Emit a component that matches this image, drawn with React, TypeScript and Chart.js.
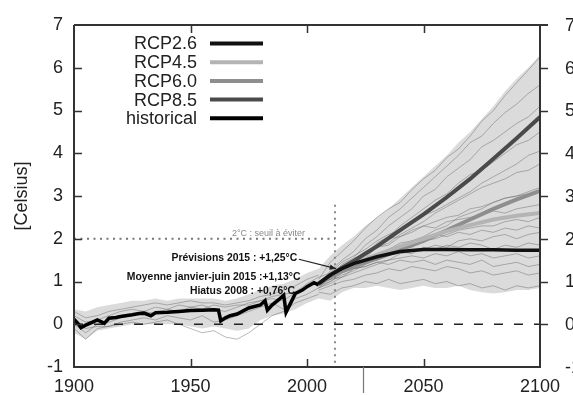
import React, { useEffect, useRef } from "react";
import { Chart, registerables } from "chart.js";
Chart.register(...registerables);

const FONT = '"Liberation Sans", Arial, Helvetica, sans-serif';

// ---- axes ----
const xMin = 1900;
const xMax = 2100;
const yMin = -1;
const yMax = 7;
const xTickYears = [1950, 2000, 2050];
const yTickVals = [0, 1, 2, 3, 4, 5, 6];
const rightLabels = ["-1", "0", "1", "2", "3", "4", "5", "6", "7"];

// ---- historical ----
const histYears = [1900,1902,1903,1905,1908,1910,1912,1913,1915,1918,1920,1925,1928,1930,1933,1935,1940,1945,1950,1955,1960,1962,1963,1965,1967,1970,1975,1980,1982,1983,1985,1988,1990,1991,1993,1995,1998,2000,2003,2005];
const histVals = [0.12,0.0,-0.08,-0.02,0.05,0.1,0.05,0.02,0.14,0.16,0.18,0.22,0.25,0.26,0.2,0.27,0.28,0.3,0.32,0.33,0.34,0.33,0.08,0.15,0.2,0.24,0.38,0.45,0.55,0.33,0.45,0.58,0.68,0.28,0.5,0.72,0.8,0.88,0.97,0.92];

// ---- scenario means ----
const scenYears = [2005,2010,2015,2020,2030,2040,2050,2060,2070,2080,2090,2100];
const rcp26 = [0.95,1.15,1.3,1.42,1.58,1.7,1.75,1.75,1.74,1.74,1.73,1.73];
const rcp45 = [0.95,1.15,1.3,1.42,1.62,1.82,2.0,2.18,2.32,2.45,2.54,2.6];
const rcp60 = [0.95,1.12,1.25,1.36,1.55,1.75,1.95,2.2,2.45,2.7,2.92,3.12];
const rcp85 = [0.95,1.15,1.32,1.48,1.82,2.2,2.57,2.97,3.4,3.87,4.35,4.85];
const legendLabels = ["RCP2.6", "RCP4.5", "RCP6.0", "RCP8.5", "historical"];

// ---- ensemble envelope ----
const envYears = [1900,1905,1910,1915,1920,1925,1930,1935,1940,1945,1950,1955,1960,1965,1970,1975,1980,1985,1990,1995,2000,2005,2010,2015,2020,2025,2030,2035,2040,2045,2050,2055,2060,2065,2070,2075,2080,2085,2090,2095,2100];
const envUpper = [0.35,0.3,0.4,0.45,0.5,0.55,0.55,0.6,0.55,0.6,0.6,0.6,0.6,0.55,0.6,0.7,0.8,0.9,0.95,1.05,1.2,1.3,1.6,1.85,2.05,2.3,2.5,2.7,2.95,3.2,3.45,3.7,3.95,4.25,4.5,4.8,5.1,5.45,5.75,6.0,6.3];
const envLower = [-0.2,-0.35,-0.15,-0.1,-0.05,0.0,0.0,0.0,0.0,0.0,-0.05,-0.1,-0.05,-0.1,-0.15,-0.1,0.1,0.2,0.25,0.35,0.5,0.6,0.55,0.75,0.85,0.85,0.9,0.85,0.8,0.85,0.9,0.85,0.85,0.9,0.8,0.75,0.72,0.75,0.8,0.8,0.85];

// ---- historical ensemble members ----
const histEnsYears = [1900,1905,1910,1915,1920,1925,1930,1935,1940,1945,1950,1955,1960,1965,1970,1975,1980,1985,1990,1995,2000,2005];
const h1 = [0.3,0.15,0.2,0.3,0.35,0.4,0.45,0.5,0.45,0.5,0.55,0.5,0.5,0.45,0.5,0.55,0.65,0.7,0.8,0.9,1.05,1.15];
const h2 = [0.0,-0.2,0.0,0.05,0.15,0.2,0.3,0.25,0.35,0.3,0.4,0.45,0.35,0.3,0.4,0.5,0.55,0.6,0.55,0.75,0.85,1.0];
const h3 = [-0.1,-0.35,-0.1,-0.05,0.05,0.1,0.15,0.1,0.2,0.15,0.1,0.2,0.05,0.1,0.2,0.3,0.4,0.5,0.35,0.6,0.7,0.85];
const h4 = [0.05,-0.1,-0.05,-0.05,0.0,0.05,0.0,0.05,0.1,0.0,-0.1,-0.2,-0.15,-0.3,-0.35,-0.2,0.0,0.2,0.3,0.5,0.6,0.7];
const h5 = [0.2,0.05,0.1,0.2,0.3,0.35,0.3,0.4,0.35,0.45,0.4,0.35,0.45,0.4,0.45,0.45,0.55,0.65,0.7,0.75,0.95,1.1];

// ---- future ensemble members ----
const futYears = [2005,2010,2015,2020,2025,2030,2035,2040,2045,2050,2055,2060,2065,2070,2075,2080,2085,2090,2095,2100];
const m1 = [1.05,1.45,1.7,1.95,2.25,2.5,2.7,2.85,3.15,3.4,3.6,3.9,4.1,4.4,4.75,5.0,5.35,5.65,5.95,6.25];
const m2 = [0.9,1.25,1.5,1.7,2.0,2.2,2.5,2.7,2.95,3.2,3.45,3.7,3.95,4.25,4.4,4.7,4.95,5.15,5.4,5.6];
const m3 = [1.0,1.1,1.4,1.55,1.85,2.05,2.3,2.5,2.7,3.0,3.15,3.45,3.65,3.85,4.15,4.3,4.5,4.7,4.85,5.1];
const m4 = [0.85,1.1,1.25,1.5,1.65,1.9,2.05,2.3,2.5,2.7,2.9,3.05,3.3,3.5,3.6,3.8,4.0,4.2,4.3,4.5];
const m5 = [0.95,1.05,1.3,1.4,1.55,1.8,1.9,2.1,2.25,2.4,2.6,2.75,2.9,3.05,3.2,3.3,3.4,3.55,3.6,3.75];
const m6 = [0.9,1.0,1.2,1.3,1.4,1.55,1.7,1.8,1.95,2.05,2.2,2.3,2.5,2.6,2.7,2.85,2.95,3.0,3.1,3.2];
const m7 = [1.0,1.15,1.3,1.5,1.6,1.8,1.85,2.05,2.15,2.3,2.4,2.5,2.55,2.7,2.75,2.85,2.95,3.0,3.05,3.1];
const m8 = [0.85,1.0,1.15,1.25,1.4,1.5,1.6,1.75,1.8,1.95,2.0,2.1,2.2,2.25,2.3,2.3,2.4,2.45,2.4,2.5];
const m9 = [0.9,1.05,1.1,1.3,1.35,1.45,1.5,1.65,1.7,1.75,1.85,1.8,1.95,2.0,1.95,2.05,2.1,2.0,2.1,2.15];
const m10 = [0.95,1.1,1.25,1.4,1.5,1.65,1.75,1.9,1.95,2.0,2.1,2.05,2.15,2.1,2.2,2.15,2.25,2.2,2.3,2.25];
const m11 = [0.85,0.95,1.1,1.2,1.3,1.4,1.5,1.55,1.6,1.55,1.65,1.6,1.7,1.6,1.65,1.55,1.6,1.65,1.55,1.6];
const m12 = [0.8,0.9,1.0,1.05,1.15,1.2,1.3,1.25,1.35,1.3,1.25,1.35,1.3,1.2,1.25,1.15,1.2,1.25,1.15,1.2];
const m13 = [0.75,0.7,0.85,0.9,1.0,0.95,1.05,0.95,1.0,1.05,0.95,1.0,0.9,0.95,0.85,0.9,0.8,0.9,0.85,0.9];
const m14 = [1.1,1.2,1.45,1.6,1.75,1.95,2.1,2.2,2.4,2.55,2.65,2.8,2.95,3.1,3.3,3.45,3.6,3.75,3.95,4.05];
const m15 = [0.95,1.2,1.3,1.5,1.7,1.85,2.0,2.05,2.2,2.3,2.25,2.4,2.45,2.5,2.55,2.65,2.6,2.7,2.75,2.8];
const m16 = [0.9,1.1,1.25,1.35,1.45,1.5,1.6,1.7,1.65,1.8,1.75,1.85,1.8,1.9,1.85,1.75,1.85,1.8,1.9,1.85];
const m17 = [1.0,1.05,1.2,1.3,1.35,1.45,1.4,1.5,1.45,1.5,1.4,1.5,1.45,1.4,1.5,1.35,1.4,1.45,1.35,1.4];

// ---- reference lines ----
const thresholdValue = 2;
const thresholdEndYear = 2012;
const markerYear = 2012;
const markerSpan = [-0.9, 2.8];
const artifactYear = 2024;

// ---- annotation texts ----
const thresholdLabel = "2°C : seuil à éviter";
const noteTexts = [
  "Prévisions 2015 : +1,25°C",
  "Moyenne janvier-juin 2015 :+1,13°C",
  "Hiatus 2008 : +0,76°C",
];

const pts = (xs: number[], ys: number[]) => xs.map((x, i) => ({ x, y: ys[i] }));

const line = (data: any[], color: string, width: number, order: number, extra: any = {}) => ({
  data,
  borderColor: color,
  borderWidth: width,
  pointRadius: 0,
  fill: false,
  tension: 0,
  order,
  ...extra,
});

const framePlugin = {
  id: "framePlugin",
  afterDatasetsDraw(chart: any) {
    const ctx = chart.ctx;
    const xs = chart.scales.x;
    const ys = chart.scales.y;
    const L = xs.left, R = xs.right, T = ys.top, B = ys.bottom;
    ctx.save();
    ctx.setLineDash([]);
    ctx.globalAlpha = 1;
    ctx.strokeStyle = "#333333";
    ctx.lineWidth = 2;
    ctx.beginPath();
    ctx.moveTo(L, T);
    ctx.lineTo(R + 8, T);
    ctx.moveTo(L, T);
    ctx.lineTo(L, B);
    ctx.lineTo(R, B);
    ctx.lineTo(R, T);
    ctx.stroke();

    ctx.lineWidth = 1.5;
    ctx.beginPath();
    for (const v of xTickYears) {
      const px = Math.round(xs.getPixelForValue(v)) + 0.5;
      ctx.moveTo(px, T);
      ctx.lineTo(px, T + 8);
      ctx.moveTo(px, B);
      ctx.lineTo(px, B - 8);
    }
    for (const v of yTickVals) {
      const py = Math.round(ys.getPixelForValue(v)) + 0.5;
      ctx.moveTo(L, py);
      ctx.lineTo(L + 8, py);
      ctx.moveTo(R, py);
      ctx.lineTo(R + 8, py);
    }
    ctx.stroke();

    ctx.strokeStyle = "#777777";
    ctx.lineWidth = 1.2;
    const sx = Math.round(xs.getPixelForValue(artifactYear)) + 0.5;
    ctx.beginPath();
    ctx.moveTo(sx, B);
    ctx.lineTo(sx, B + 26);
    ctx.stroke();

    ctx.fillStyle = "#222";
    ctx.font = `18px ${FONT}`;
    ctx.textAlign = "left";
    ctx.textBaseline = "middle";
    rightLabels.forEach((lab) => {
      ctx.fillText(lab, R + 25, ys.getPixelForValue(Number(lab)) + 1);
    });
    ctx.restore();
  },
};

const overlay = {
  id: "overlay",
  afterDraw(chart: any) {
    const ctx = chart.ctx;
    const xs = chart.scales.x;
    const ys = chart.scales.y;
    const L = xs.left, T = ys.top;
    ctx.save();
    ctx.setLineDash([]);

    ctx.fillStyle = "#888";
    ctx.font = `9px ${FONT}`;
    ctx.textAlign = "center";
    ctx.textBaseline = "middle";
    ctx.fillText(thresholdLabel, xs.getPixelForValue(1983.5), ys.getPixelForValue(2.13));

    ctx.fillStyle = "#111";
    ctx.font = `bold 10.4px ${FONT}`;
    ctx.textAlign = "right";
    ctx.fillText(noteTexts[0], xs.getPixelForValue(1995.8), ys.getPixelForValue(1.55));
    ctx.fillText(noteTexts[1], xs.getPixelForValue(1997.2), ys.getPixelForValue(1.1));
    ctx.fillText(noteTexts[2], xs.getPixelForValue(1994.8), ys.getPixelForValue(0.78));

    const ax0 = xs.getPixelForValue(1996.5), ay0 = ys.getPixelForValue(1.52);
    const ax1 = xs.getPixelForValue(2012.5), ay1 = ys.getPixelForValue(1.3);
    ctx.strokeStyle = "#222";
    ctx.lineWidth = 1.2;
    ctx.beginPath();
    ctx.moveTo(ax0, ay0);
    ctx.lineTo(ax1, ay1);
    ctx.stroke();
    const ang = Math.atan2(ay1 - ay0, ax1 - ax0);
    ctx.fillStyle = "#222";
    ctx.beginPath();
    ctx.moveTo(ax1, ay1);
    ctx.lineTo(ax1 - 7 * Math.cos(ang - 0.4), ay1 - 7 * Math.sin(ang - 0.4));
    ctx.lineTo(ax1 - 7 * Math.cos(ang + 0.4), ay1 - 7 * Math.sin(ang + 0.4));
    ctx.closePath();
    ctx.fill();

    const legendColors = ["#111", "#b4b4b4", "#8e8e8e", "#4a4a4a", "#000"];
    ctx.font = `18px ${FONT}`;
    ctx.textAlign = "right";
    ctx.textBaseline = "middle";
    legendLabels.forEach((lab, i) => {
      const yy = T + 18.5 + i * 18.7;
      ctx.fillStyle = "#222";
      ctx.fillText(lab, L + 123, yy + 1);
      ctx.strokeStyle = legendColors[i];
      ctx.lineWidth = 4;
      ctx.beginPath();
      ctx.moveTo(L + 136, yy);
      ctx.lineTo(L + 189, yy);
      ctx.stroke();
    });
    ctx.restore();
  },
};

export default function App() {
  const ref = useRef<HTMLCanvasElement>(null);

  useEffect(() => {
    if (!ref.current) return;
    const ensColor = "rgba(105,105,105,0.6)";
    const ensW = 0.8;
    const datasets: any[] = [
      line(pts(envYears, envLower), "rgba(0,0,0,0)", 0, 100),
      line(pts(envYears, envUpper), "rgba(0,0,0,0)", 0, 100, {
        fill: "-1",
        backgroundColor: "rgba(170,170,170,0.42)",
      }),
      ...[h1, h2, h3, h4, h5].map((h) => line(pts(histEnsYears, h), ensColor, ensW, 50)),
      ...[m1, m2, m3, m4, m5, m6, m7, m8, m9, m10, m11, m12, m13, m14, m15, m16, m17].map((m) =>
        line(pts(futYears, m), ensColor, ensW, 50)
      ),
      line(pts([xMin, xMax], [0, 0]), "#222", 1.6, 40, { borderDash: [9, 11] }),
      line(pts([xMin, thresholdEndYear], [thresholdValue, thresholdValue]), "#777", 2, 40, {
        borderDash: [2, 4.5],
      }),
      line(pts([markerYear, markerYear], markerSpan), "#888", 2, 40, { borderDash: [2, 4.5] }),
      line(pts(scenYears, rcp60), "#8e8e8e", 4, 20),
      line(pts(scenYears, rcp45), "#b4b4b4", 4, 19),
      line(pts(scenYears, rcp85), "#4a4a4a", 4, 18),
      line(pts(scenYears, rcp26), "#111", 3.5, 17),
      line(pts(histYears, histVals), "#000", 3.5, 1),
    ];

    const noGrid = { display: false, drawTicks: false, tickLength: 0 };
    const chart = new Chart(ref.current, {
      type: "line",
      data: { datasets },
      options: {
        responsive: false,
        animation: false,
        events: [],
        layout: { padding: { top: 25, left: 0, right: 33, bottom: 0 } },
        plugins: { legend: { display: false }, tooltip: { enabled: false } },
        scales: {
          x: {
            type: "linear",
            min: xMin,
            max: xMax,
            grid: noGrid,
            border: { display: false },
            ticks: {
              stepSize: 50,
              autoSkip: false,
              maxRotation: 0,
              padding: 9,
              color: "#222",
              font: { family: FONT, size: 18 },
              callback: (v: any) => String(v),
            },
            afterFit: (s: any) => {
              s.height = 28;
            },
          },
          y: {
            type: "linear",
            position: "left",
            min: yMin,
            max: yMax,
            grid: noGrid,
            border: { display: false },
            ticks: {
              stepSize: 1,
              padding: 11,
              color: "#222",
              font: { family: FONT, size: 18 },
            },
            title: {
              display: true,
              text: "[Celsius]",
              color: "#222",
              font: { family: FONT, size: 18 },
              padding: { top: 11, bottom: 0 },
            },
            afterFit: (s: any) => {
              s.width = 74;
            },
          },
        },
      },
      plugins: [framePlugin, overlay],
    });
    return () => chart.destroy();
  }, []);

  return (
    <div style={{ position: "absolute", left: 0, top: 0, width: 573, height: 395, background: "#fff" }}>
      <canvas ref={ref} width={573} height={395} />
    </div>
  );
}
